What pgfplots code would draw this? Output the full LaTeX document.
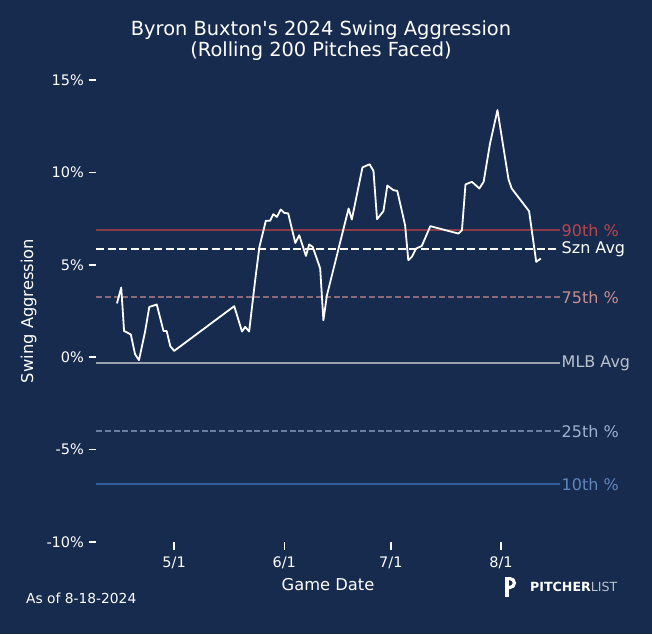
\documentclass[border=0pt]{standalone}
\usepackage{pgfplots}
\pgfplotsset{compat=1.18}
\usepackage{fontspec}
\setmainfont{DejaVu Sans}[Ligatures=TeXOff]
\definecolor{bg}{RGB}{23,43,78}
\definecolor{p90}{RGB}{140,58,72}
\definecolor{p90t}{RGB}{184,70,78}
\definecolor{p75}{RGB}{138,106,118}
\definecolor{p75t}{RGB}{200,142,142}
\definecolor{mlb}{RGB}{154,163,173}
\definecolor{mlbt}{RGB}{185,194,204}
\definecolor{p25}{RGB}{106,127,159}
\definecolor{p25t}{RGB}{157,176,207}
\definecolor{p10}{RGB}{47,94,158}
\definecolor{p10t}{RGB}{94,134,191}
\begin{document}
\begin{tikzpicture}[x=1pt,y=1pt]
\fill[bg] (0,0) rectangle (652,634);
\begin{axis}[
  at={(96pt,92pt)}, anchor=south west,
  width=464pt, height=462pt, scale only axis,
  xmin=-22, xmax=108.6, ymin=-10, ymax=15,
  axis lines*=left, axis line style={draw=none},
  tick pos=left, tick align=outside,
  major tick length=7.5pt,
  tick style={white, line width=1.6pt},
  xtick={0,31,61,92}, xticklabels={5/1,6/1,7/1,8/1},
  ytick={-10,-5,0,5,10,15}, yticklabels={-10\%,-5\%,0\%,5\%,10\%,15\%},
  ticklabel style={white, font=\fontsize{14.5}{17}\selectfont},
  xticklabel style={yshift=-4pt},
  yticklabel style={xshift=-1pt},
  xlabel={Game Date}, ylabel={Swing Aggression},
  label style={white, font=\fontsize{16.3}{19}\selectfont},
  xlabel style={yshift=-2pt},
  ylabel style={yshift=3pt},
  clip=false,
]
\addplot[p90, line width=1.6pt] coordinates {(-22,6.87) (108.6,6.87)};
\addplot[white, line width=2pt, dash pattern=on 8pt off 3.6pt] coordinates {(-22,5.84) (108.6,5.84)};
\addplot[p75, line width=1.5pt, dash pattern=on 6pt off 2.8pt] coordinates {(-22,3.25) (108.6,3.25)};
\addplot[mlb, line width=1.8pt] coordinates {(-22,-0.32) (108.6,-0.32)};
\addplot[p25, line width=1.5pt, dash pattern=on 6pt off 2.8pt] coordinates {(-22,-4.0) (108.6,-4.0)};
\addplot[p10, line width=1.6pt] coordinates {(-22,-6.87) (108.6,-6.87)};
\addplot[white, line width=1.8pt, line join=round] coordinates {
(-16.1,2.91) (-14.9,3.77) (-14.1,1.42) (-12.2,1.23) (-11.0,0.16) (-9.9,-0.16)
(-8.2,1.37) (-7.0,2.72) (-4.9,2.85) (-3.0,1.42) (-2.1,1.41) (-1.1,0.60) (0,0.34)
(16.9,2.76) (19.1,1.39) (20.0,1.64) (21.1,1.39) (22.8,4.17) (24.0,5.97) (25.8,7.38)
(27.0,7.38) (27.9,7.74) (28.9,7.59) (30.0,7.99) (31.0,7.81) (32.1,7.78) (34.1,6.18)
(35.2,6.60) (37.1,5.48) (38.0,6.10) (39.0,5.97) (41.1,4.80) (42.0,2.00) (43.0,3.35)
(49.1,8.05) (50.0,7.45) (53.0,10.27) (55.0,10.44) (56.1,10.08) (57.1,7.47) (58.9,7.90)
(60.0,9.29) (61.7,9.04) (62.8,9.00) (65.0,7.14) (65.9,5.25) (66.9,5.43) (68.1,5.88)
(69.7,6.02) (72.1,7.09) (80.0,6.69) (81.0,6.87) (82.0,9.35) (83.8,9.49) (85.9,9.13)
(87.1,9.49) (88.9,11.56) (91.0,13.37) (92.5,11.56) (94.1,9.63) (95.0,9.13) (99.9,7.90)
(101.9,5.16) (103.2,5.34)
};
\node[anchor=west, inner sep=0pt, xshift=1.5pt, text=p90t, font=\fontsize{16}{19}\selectfont] at (axis cs:108.6,6.87) {90th \%};
\node[anchor=west, inner sep=0pt, xshift=1.5pt, text=white, font=\fontsize{16}{19}\selectfont] at (axis cs:108.6,5.84) {Szn Avg};
\node[anchor=west, inner sep=0pt, xshift=1.5pt, text=p75t, font=\fontsize{16}{19}\selectfont] at (axis cs:108.6,3.25) {75th \%};
\node[anchor=west, inner sep=0pt, xshift=1.5pt, text=mlbt, font=\fontsize{16}{19}\selectfont] at (axis cs:108.6,-0.32) {MLB Avg};
\node[anchor=west, inner sep=0pt, xshift=1.5pt, text=p25t, font=\fontsize{16}{19}\selectfont] at (axis cs:108.6,-4.0) {25th \%};
\node[anchor=west, inner sep=0pt, xshift=1.5pt, text=p10t, font=\fontsize{16}{19}\selectfont] at (axis cs:108.6,-6.87) {10th \%};
\end{axis}
\node[anchor=base, text=white, font=\fontsize{19.4}{21}\selectfont, inner sep=0pt] at (321,598) {Byron Buxton's 2024 Swing Aggression};
\node[anchor=base, text=white, font=\fontsize{19.4}{21}\selectfont, inner sep=0pt] at (321,577.3) {(Rolling 200 Pitches Faced)};
\node[anchor=base west, inner sep=0pt, text=white, font=\fontsize{13.8}{16}\selectfont] at (26,31) {As of 8-18-2024};
% logo
\draw[white, line width=3.2pt, line cap=butt] (507,57) -- (507,37);
\draw[white, line width=3.2pt] (505.4,55.4) -- (510,55.4) arc[start angle=90, end angle=-90, radius=4.4] -- (507,46.6);
\node[anchor=base west, inner sep=0pt, text=white, font=\fontsize{12.6}{14}\selectfont] at (530,42.4) {\textbf{PITCHER}\textcolor{mlbt}{LIST}};
\end{tikzpicture}
\end{document}
